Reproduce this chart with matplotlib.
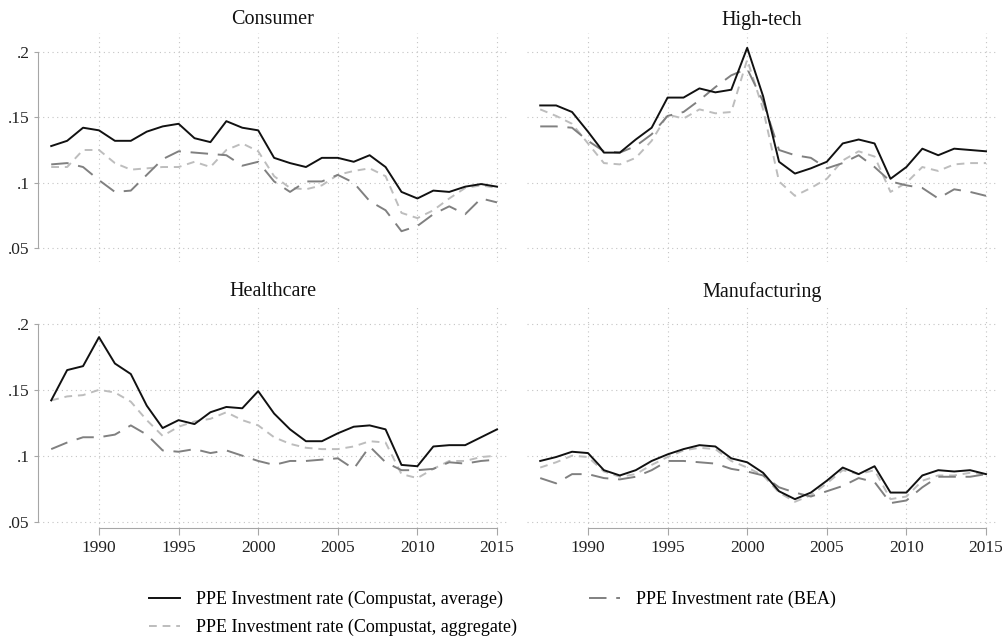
import matplotlib
matplotlib.use("Agg")
import matplotlib.pyplot as plt
from matplotlib.ticker import FuncFormatter

plt.rcParams["font.family"] = ["Liberation Serif", "DejaVu Serif"]

years = list(range(1987, 2016))

# values, one per year 1987..2015
cons_avg = [0.128, 0.132, 0.142, 0.140, 0.132, 0.132, 0.139, 0.143, 0.145, 0.134, 0.131, 0.147,
            0.142, 0.140, 0.119, 0.115, 0.112, 0.119, 0.119, 0.116, 0.121, 0.112, 0.093, 0.088,
            0.094, 0.093, 0.097, 0.099, 0.097]
cons_agg = [0.112, 0.112, 0.125, 0.125, 0.115, 0.110, 0.111, 0.112, 0.112, 0.116, 0.112, 0.125,
            0.130, 0.124, 0.105, 0.096, 0.095, 0.098, 0.106, 0.109, 0.111, 0.105, 0.077, 0.073,
            0.079, 0.088, 0.096, 0.098, 0.096]
cons_bea = [0.114, 0.115, 0.112, 0.102, 0.093, 0.094, 0.106, 0.118, 0.124, 0.123, 0.122, 0.121,
            0.113, 0.116, 0.101, 0.093, 0.101, 0.101, 0.106, 0.100, 0.086, 0.079, 0.063, 0.067,
            0.076, 0.082, 0.076, 0.088, 0.085]

tech_avg = [0.159, 0.159, 0.154, 0.139, 0.123, 0.123, 0.133, 0.142, 0.165, 0.165, 0.172, 0.169,
            0.171, 0.203, 0.166, 0.116, 0.107, 0.111, 0.116, 0.130, 0.133, 0.130, 0.103, 0.112,
            0.126, 0.121, 0.126, 0.125, 0.124]
tech_agg = [0.156, 0.151, 0.145, 0.130, 0.115, 0.114, 0.119, 0.132, 0.152, 0.149, 0.156, 0.153,
            0.154, 0.194, 0.156, 0.101, 0.090, 0.096, 0.103, 0.117, 0.124, 0.120, 0.093, 0.100,
            0.112, 0.109, 0.114, 0.115, 0.115]
tech_bea = [0.143, 0.143, 0.142, 0.132, 0.124, 0.123, 0.128, 0.137, 0.151, 0.154, 0.163, 0.173,
            0.182, 0.187, 0.162, 0.125, 0.121, 0.119, 0.111, 0.115, 0.121, 0.112, 0.101, 0.098,
            0.096, 0.088, 0.095, 0.093, 0.090]

hlth_avg = [0.142, 0.165, 0.168, 0.190, 0.170, 0.162, 0.138, 0.121, 0.127, 0.124, 0.133, 0.137,
            0.136, 0.149, 0.132, 0.120, 0.111, 0.111, 0.117, 0.122, 0.123, 0.120, 0.093, 0.092,
            0.107, 0.108, 0.108, 0.114, 0.120]
hlth_agg = [0.142, 0.145, 0.146, 0.150, 0.148, 0.141, 0.127, 0.115, 0.122, 0.126, 0.128, 0.133,
            0.127, 0.123, 0.114, 0.109, 0.106, 0.105, 0.105, 0.107, 0.111, 0.110, 0.086, 0.083,
            0.090, 0.096, 0.096, 0.099, 0.100]
hlth_bea = [0.105, 0.110, 0.114, 0.114, 0.116, 0.123, 0.116, 0.104, 0.103, 0.105, 0.102, 0.104,
            0.100, 0.096, 0.093, 0.096, 0.096, 0.097, 0.098, 0.090, 0.107, 0.095, 0.089, 0.089,
            0.090, 0.095, 0.094, 0.096, 0.097]

manu_avg = [0.096, 0.099, 0.103, 0.102, 0.089, 0.085, 0.089, 0.096, 0.101, 0.105, 0.108, 0.107,
            0.098, 0.095, 0.087, 0.073, 0.067, 0.072, 0.081, 0.091, 0.086, 0.092, 0.072, 0.072,
            0.085, 0.089, 0.088, 0.089, 0.086]
manu_agg = [0.091, 0.095, 0.100, 0.099, 0.088, 0.084, 0.086, 0.093, 0.099, 0.104, 0.106, 0.105,
            0.096, 0.091, 0.085, 0.072, 0.065, 0.070, 0.079, 0.089, 0.086, 0.089, 0.067, 0.069,
            0.081, 0.085, 0.085, 0.087, 0.086]
manu_bea = [0.083, 0.079, 0.086, 0.086, 0.083, 0.082, 0.084, 0.089, 0.096, 0.096, 0.095, 0.094,
            0.090, 0.088, 0.085, 0.076, 0.072, 0.069, 0.073, 0.077, 0.083, 0.080, 0.064, 0.066,
            0.076, 0.084, 0.084, 0.084, 0.086]

panels = [
    ("Consumer", cons_avg, cons_agg, cons_bea),
    ("High-tech", tech_avg, tech_agg, tech_bea),
    ("Healthcare", hlth_avg, hlth_agg, hlth_bea),
    ("Manufacturing", manu_avg, manu_agg, manu_bea),
]
yticks = [0.05, 0.1, 0.15, 0.2]
xticks = [1990, 1995, 2000, 2005, 2010, 2015]

C_AVG = "#111111"
C_AGG = "#bdbdbd"
C_BEA = "#808080"
AXCOL = "#a6a6a6"
GRID = "#c4c4c4"

W, H = 1003, 641
fig = plt.figure(figsize=(W / 100, H / 100), dpi=100)

# pixel boxes (left, top, right, bottom) of the four plot regions
boxes = [(38, 33, 508, 262), (527, 33, 997, 262),
         (38, 307, 508, 528), (527, 307, 997, 528)]
ylims = [(0.0395, 0.2143), (0.0395, 0.2143), (0.0451, 0.2129), (0.0451, 0.2129)]

def fmt(v, _):
    s = f"{v:.2f}".rstrip("0")
    return s[1:] if s.startswith("0") else s

handles = None
for i, (name, avg, agg, bea) in enumerate(panels):
    l, t, r, b = boxes[i]
    ax = fig.add_axes([l / W, 1 - b / H, (r - l) / W, (b - t) / H])
    h1, = ax.plot(years, avg, color=C_AVG, lw=1.4, zorder=4)
    h3, = ax.plot(years, bea, color=C_BEA, lw=1.4, dashes=(9, 5), zorder=3)
    h2, = ax.plot(years, agg, color=C_AGG, lw=1.4, dashes=(4, 3), zorder=2)
    handles = [h1, h2, h3]

    ax.set_xlim(1986.17, 2015.69)
    ax.set_ylim(*ylims[i])
    ax.set_xticks(xticks)
    ax.set_yticks(yticks)
    ax.yaxis.set_major_formatter(FuncFormatter(fmt))
    ax.grid(True, color=GRID, linestyle=(0, (1, 3.2)), lw=0.8)
    ax.set_axisbelow(True)
    for s in ("top", "right"):
        ax.spines[s].set_visible(False)

    left_col = i % 2 == 0
    bottom_row = i >= 2
    if left_col:
        ax.spines["left"].set_color(AXCOL)
        ax.spines["left"].set_bounds(0.05, 0.2)
        ax.tick_params(axis="y", length=3, color=AXCOL, pad=3, labelsize=12.5,
                       labelcolor="#222222")
    else:
        ax.spines["left"].set_visible(False)
        ax.tick_params(axis="y", length=0, labelleft=False)
    if bottom_row:
        ax.spines["bottom"].set_color(AXCOL)
        ax.spines["bottom"].set_bounds(1990, 2015)
        ax.tick_params(axis="x", length=5, color=AXCOL, pad=4, labelsize=12.5,
                       labelcolor="#222222")
    else:
        ax.spines["bottom"].set_visible(False)
        ax.tick_params(axis="x", length=0, labelbottom=False)

    fig.text((l + r) / 2 / W, 1 - (20 if i < 2 else 292) / H, name,
             ha="center", va="center", fontsize=14.5, color="#111111")

labels = ["PPE Investment rate (Compustat, average)",
          "PPE Investment rate (Compustat, aggregate)",
          "PPE Investment rate (BEA)"]
fig.legend(handles, labels, loc="upper left", bbox_to_anchor=(149 / W, 1 - 591 / H),
           ncol=2, frameon=False, fontsize=13, handlelength=1.7, handletextpad=0.9,
           columnspacing=4.0, labelspacing=0.6, borderpad=0, borderaxespad=0)

fig.savefig("out.png", dpi=100)
